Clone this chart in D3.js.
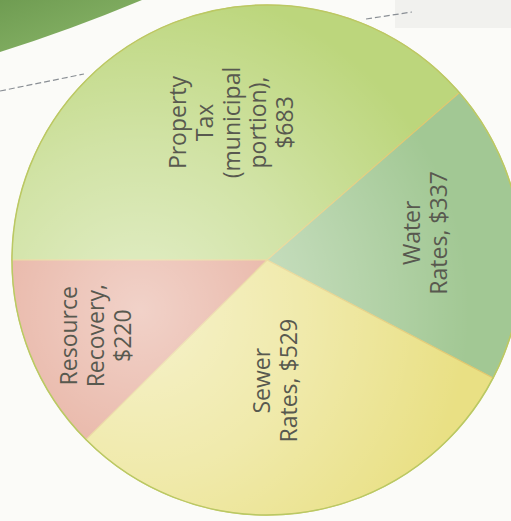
<!DOCTYPE html>
<html>
<head>
<meta charset="utf-8">
<script src="https://cdn.jsdelivr.net/npm/d3@7"></script>
<style>
  html, body { margin: 0; padding: 0; background: #fbfbf8; }
  #chart { width: 511px; height: 521px; }
  .slice-label { font-family: "Open Sans", "Noto Sans", sans-serif; font-size: 23px; fill: #58594f; }
</style>
</head>
<body>
<div id="chart"></div>
<script>
// values (dollars)
const categories = ["Property Tax (municipal portion)", "Water Rates", "Sewer Rates", "Resource Recovery"];
const amounts = [683, 337, 529, 220];
const labelLines = [
  ["Property", "Tax", "(municipal", "portion),", "$683"],
  ["Water", "Rates, $337"],
  ["Sewer", "Rates, $529"],
  ["Resource", "Recovery,", "$220"]
];

// look of the photographed page
const sliceColors = ["#bcd67c", "#a2c894", "#e9e084", "#de947e"];
const labelRadius = [142, 161, 121, 187];
const labelTurn = [6, -3, 4.5, -1.5]; // degrees
const width = 511, height = 521;
const cx = 267, cy = 260, radius = 255;
const lineHeight = 27;

const svg = d3.select("#chart").append("svg")
    .attr("width", width)
    .attr("height", height)
    .attr("viewBox", "0 0 " + width + " " + height);

let defs = svg.append("defs");

// glare from the photo, brightest on the left of the disc
let glare = defs.append("radialGradient")
    .attr("id", "glare")
    .attr("gradientUnits", "userSpaceOnUse")
    .attr("cx", 140).attr("cy", 310).attr("r", 330);
glare.append("stop").attr("offset", 0).attr("stop-color", "#fff").attr("stop-opacity", 0.58);
glare.append("stop").attr("offset", 0.5).attr("stop-color", "#fff").attr("stop-opacity", 0.32);
glare.append("stop").attr("offset", 1).attr("stop-color", "#fff").attr("stop-opacity", 0);

let band = defs.append("linearGradient")
    .attr("id", "band").attr("x1", 0).attr("y1", 0).attr("x2", 1).attr("y2", 1);
band.append("stop").attr("offset", 0).attr("stop-color", "#6f9c52");
band.append("stop").attr("offset", 1).attr("stop-color", "#8cb86a");

// page background bits around the chart
svg.append("path")
    .attr("d", "M0,0 L142,0 Q70,30 0,52 Z")
    .attr("fill", "url(#band)");
svg.append("rect")
    .attr("x", 395).attr("y", 0).attr("width", 116).attr("height", 28)
    .attr("fill", "#ececea").attr("opacity", 0.7);
svg.append("line")
    .attr("x1", 0).attr("y1", 91).attr("x2", 84).attr("y2", 74)
    .attr("stroke", "#8a8f95").attr("stroke-width", 1.2).attr("stroke-dasharray", "6,3");
svg.append("line")
    .attr("x1", 366).attr("y1", 19).attr("x2", 412).attr("y2", 12)
    .attr("stroke", "#8a8f95").attr("stroke-width", 1.2).attr("stroke-dasharray", "6,3");

let pie = d3.pie()
    .sort(null)
    .value(d => d)
    .startAngle(-Math.PI / 2)
    .endAngle(1.5 * Math.PI);

let arc = d3.arc().innerRadius(0).outerRadius(radius);
let arcs = pie(amounts);

let g = svg.append("g").attr("transform", "translate(" + cx + "," + cy + ")");

g.selectAll(".slice")
  .data(arcs)
  .enter().append("path")
    .attr("class", "slice")
    .attr("d", arc)
    .attr("fill", (d, i) => sliceColors[i])
    .attr("stroke", "#e0c870")
    .attr("stroke-width", 1.1);

// photo glare on top of the slices
g.append("circle")
    .attr("r", radius)
    .attr("transform", "translate(" + (-cx) + "," + (-cy) + ")")
    .attr("cx", cx).attr("cy", cy)
    .attr("fill", "url(#glare)")
    .attr("stroke", "#b9c964")
    .attr("stroke-width", 1.5);

// labels are printed sideways, reading bottom to top
g.selectAll(".slice-label")
  .data(arcs)
  .enter().append("text")
    .attr("class", "slice-label")
    .attr("text-anchor", "middle")
    .attr("transform", (d, i) => {
      let a = (d.startAngle + d.endAngle) / 2 + labelTurn[i] * Math.PI / 180;
      let x = Math.sin(a) * labelRadius[i], y = -Math.cos(a) * labelRadius[i];
      return "translate(" + x + "," + y + ") rotate(-90)";
    })
    .each(function(d, i) {
      let lines = labelLines[i];
      let t = d3.select(this);
      lines.forEach((line, k) => {
        t.append("tspan")
          .attr("x", 0)
          .attr("y", (k - (lines.length - 1) / 2) * lineHeight)
          .attr("dy", "0.35em")
          .text(line);
      });
    });
</script>
</body>
</html>
